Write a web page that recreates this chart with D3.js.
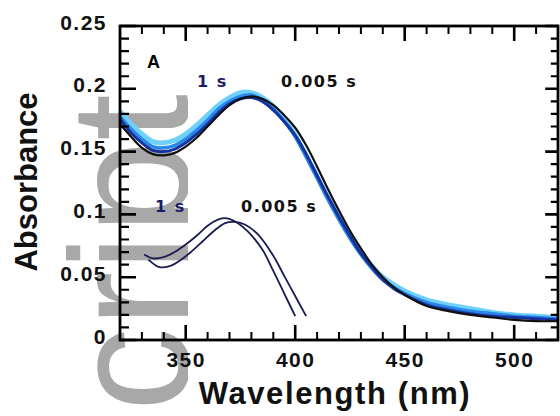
<!DOCTYPE html>
<html>
<head>
<meta charset="utf-8">
<script src="https://cdn.jsdelivr.net/npm/d3@7"></script>
<style>
  html, body { margin: 0; padding: 0; background: #fff; }
  svg { display: block; }
</style>
</head>
<body>
<div id="container"></div>
<script>
// wavelengths (nm) for the main spectra
const wavelengths = [320,325,330,335,340,345,350,355,360,365,370,375,380,385,390,395,400,405,410,415,420,425,430,435,440,445,450,460,470,480,490,500,510,520];

// absorbance, 1 s (light blue) -> 0.005 s (black)
const spec1s   = [0.182,0.172,0.164,0.158,0.157,0.159,0.164,0.171,0.179,0.187,0.193,0.197,0.197,0.193,0.186,0.176,0.163,0.147,0.130,0.113,0.097,0.083,0.070,0.059,0.050,0.044,0.039,0.032,0.028,0.025,0.022,0.020,0.019,0.018];
const specB    = [0.178,0.168,0.160,0.154,0.153,0.155,0.160,0.167,0.175,0.184,0.190,0.194,0.195,0.191,0.184,0.174,0.162,0.146,0.129,0.112,0.096,0.081,0.068,0.057,0.048,0.042,0.037,0.030,0.026,0.023,0.021,0.019,0.018,0.017];
const specC    = [0.176,0.165,0.157,0.151,0.150,0.152,0.157,0.164,0.172,0.181,0.188,0.192,0.193,0.190,0.183,0.174,0.163,0.148,0.131,0.114,0.098,0.083,0.069,0.058,0.048,0.041,0.036,0.028,0.024,0.021,0.019,0.018,0.017,0.016];
const spec005s = [0.172,0.162,0.153,0.148,0.147,0.149,0.154,0.161,0.170,0.179,0.187,0.192,0.194,0.192,0.187,0.179,0.169,0.155,0.138,0.120,0.103,0.087,0.073,0.060,0.050,0.042,0.036,0.027,0.023,0.020,0.018,0.016,0.015,0.015];

// lower pair of spectra
const lowWl1s   = [331,335,340,345,350,355,360,365,368,372,378,385,390,395,400];
const low1s     = [0.068,0.065,0.066,0.070,0.076,0.083,0.091,0.096,0.097,0.095,0.087,0.072,0.055,0.037,0.019];
const lowWl005s = [333,338,343,348,353,358,363,368,372,377,383,390,395,400,405];
const low005s   = [0.064,0.058,0.059,0.064,0.071,0.079,0.087,0.093,0.094,0.092,0.084,0.067,0.051,0.035,0.019];

const xMajor = [350,400,450,500];
const yMajor = [0,0.05,0.1,0.15,0.2,0.25];

const width = 560, height = 416;
const mLeft = 120, mRight = 558, mTop = 26, mBottom = 340;

const svg = d3.select("#container")
  .append("svg")
  .attr("width", width)
  .attr("height", height)
  .attr("viewBox", [0, 0, width, height]);

// watermark behind everything (cut off on the right like in the scan)
svg.append("clipPath").attr("id", "wm")
  .append("rect").attr("x", 0).attr("y", 0).attr("width", 188).attr("height", height);
svg.append("g").attr("clip-path", "url(#wm)")
  .append("text")
  .attr("transform", "translate(188,94) rotate(-90)")
  .attr("text-anchor", "end")
  .attr("font-family", "'Liberation Sans', Arial, sans-serif")
  .attr("font-size", 168)
  .attr("fill", "#a8a8a8")
  .text("Manuscript");

const x = d3.scaleLinear().domain([320, 520]).range([mLeft, mRight]);
const y = d3.scaleLinear().domain([0, 0.25]).range([mBottom, mTop]);

const xMinor = d3.range(320, 521, 10).filter(d => !xMajor.includes(d));
const yMinor = d3.range(0, 26, 1).map(d => d / 100).filter(d => !yMajor.some(m => Math.abs(m - d) < 1e-9));

const fmt = d3.format("~g");
const font = "'Liberation Sans', Arial, Helvetica, sans-serif";

function styleLabels(g) {
  g.select(".domain").remove();
  g.selectAll(".tick line").remove();
  g.selectAll("text")
    .attr("font-family", font)
    .attr("font-weight", "bold")
    .attr("font-size", 21)
    .attr("letter-spacing", 1.5)
    .attr("fill", "#111");
}

// tick labels
svg.append("g").attr("transform", `translate(0,${mBottom})`)
  .call(d3.axisBottom(x).tickValues(xMajor).tickSize(0).tickPadding(12).tickFormat(fmt))
  .call(styleLabels);
svg.append("g").attr("transform", `translate(${mLeft},0)`)
  .call(d3.axisLeft(y).tickValues(yMajor).tickSize(0).tickPadding(13).tickFormat(fmt))
  .call(styleLabels)
  .call(g => g.selectAll("text").attr("dy", "0.15em"));

const line = (wl) => d3.line()
  .x((d, i) => x(wl[i]))
  .y(d => y(d))
  .curve(d3.curveCatmullRom);

const mainSeries = [
  {vals: spec1s,   color: "#6fd0fb", w: 5},
  {vals: specB,    color: "#2a86e8", w: 3.5},
  {vals: specC,    color: "#16329e", w: 3},
  {vals: spec005s, color: "#111111", w: 2.2}
];

svg.append("g").selectAll("path")
  .data(mainSeries)
  .join("path")
  .attr("d", d => line(wavelengths)(d.vals))
  .attr("fill", "none")
  .attr("stroke", d => d.color)
  .attr("stroke-width", d => d.w)
  .attr("stroke-linejoin", "round");

const lowSeries = [
  {wl: lowWl1s, vals: low1s},
  {wl: lowWl005s, vals: low005s}
];

svg.append("g").selectAll("path")
  .data(lowSeries)
  .join("path")
  .attr("d", d => line(d.wl)(d.vals))
  .attr("fill", "none")
  .attr("stroke", "#1c1c52")
  .attr("stroke-width", 1.8);

// frame
svg.append("rect")
  .attr("x", mLeft).attr("y", mTop)
  .attr("width", mRight - mLeft).attr("height", mBottom - mTop)
  .attr("fill", "none").attr("stroke", "#000").attr("stroke-width", 2.8);

// inward tick marks on all four sides, one path per side and size
const tickSets = [
  {vals: xMinor, len: 8,  w: 2,   side: "x"},
  {vals: xMajor, len: 15, w: 2.6, side: "x"},
  {vals: yMinor, len: 9,  w: 2.2, side: "y"},
  {vals: yMajor, len: 16, w: 2.6, side: "y"}
];
function tickPath(t) {
  if (t.side === "x") {
    return t.vals.map(v => `M${x(v)},${mBottom}V${mBottom - t.len}M${x(v)},${mTop}V${mTop + t.len}`).join("");
  }
  return t.vals.map(v => `M${mLeft},${y(v)}H${mLeft + t.len}M${mRight},${y(v)}H${mRight - t.len * 0.8}`).join("");
}
svg.selectAll("path.tick-mark")
  .data(tickSets)
  .join("path")
  .attr("class", "tick-mark")
  .attr("d", tickPath)
  .attr("fill", "none")
  .attr("stroke", "#000")
  .attr("stroke-width", d => d.w);

// annotations
const noteFont = "'DejaVu Sans', Verdana, sans-serif";
svg.append("text").attr("x", 147).attr("y", 68)
  .attr("font-family", font).attr("font-weight", "bold").attr("font-size", 18)
  .text("A");

const notes = [
  {x: 197, y: 87, t: "1 s", c: "#1c1c6a"},
  {x: 281, y: 87, t: "0.005 s", c: "#111"},
  {x: 155, y: 212, t: "1 s", c: "#1c1c6a"},
  {x: 241, y: 212, t: "0.005 s", c: "#111"}
];
svg.append("g").selectAll("text")
  .data(notes)
  .join("text")
  .attr("x", d => d.x).attr("y", d => d.y)
  .attr("font-family", noteFont)
  .attr("font-weight", "bold")
  .attr("font-size", 16)
  .attr("letter-spacing", 1.5)
  .attr("fill", d => d.c)
  .text(d => d.t);

// axis titles
svg.append("text")
  .attr("transform", "translate(37,182) rotate(-90)")
  .attr("text-anchor", "middle")
  .attr("font-family", font).attr("font-weight", "bold").attr("font-size", 31)
  .attr("fill", "#111")
  .text("Absorbance");

svg.append("text")
  .attr("x", 335).attr("y", 404)
  .attr("text-anchor", "middle")
  .attr("font-family", font).attr("font-weight", "bold").attr("font-size", 31)
  .attr("letter-spacing", 1.6)
  .attr("fill", "#111")
  .text("Wavelength (nm)");
</script>
</body>
</html>
